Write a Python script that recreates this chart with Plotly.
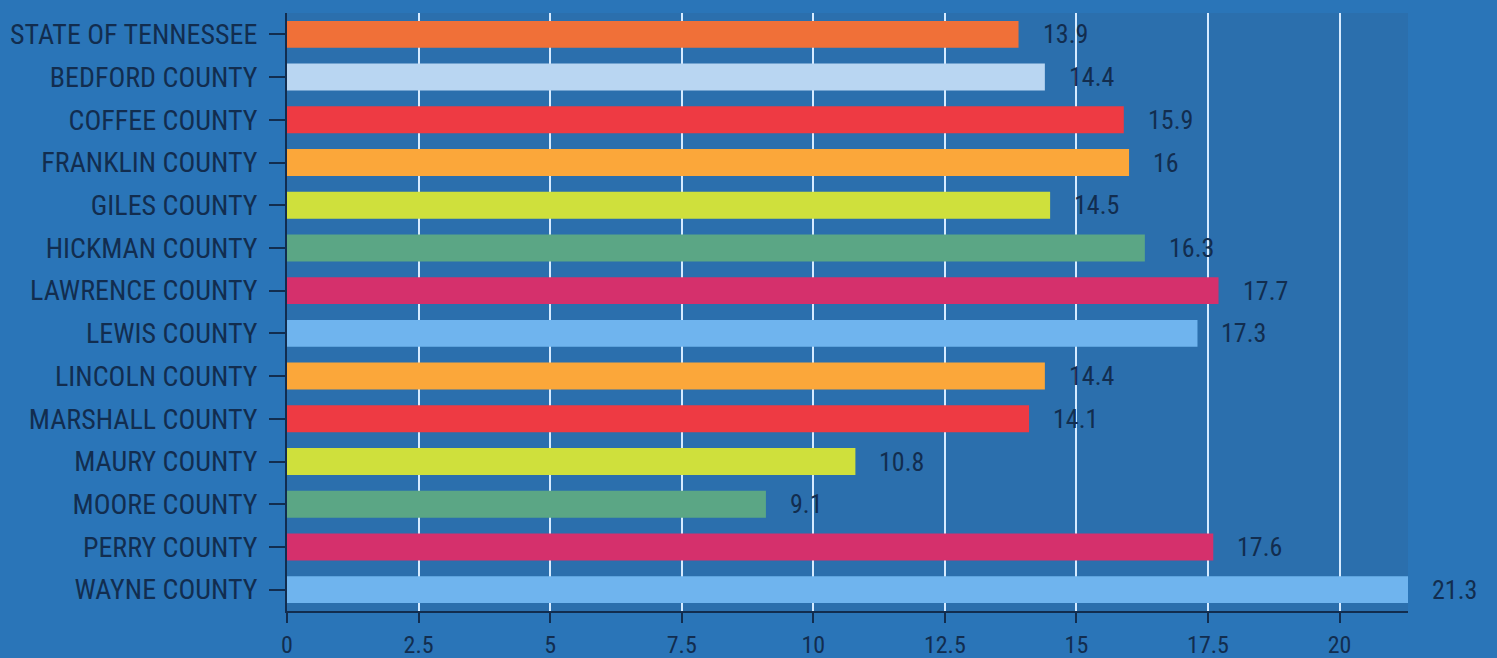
import plotly.graph_objects as go

categories = ["STATE OF TENNESSEE", "BEDFORD COUNTY", "COFFEE COUNTY", "FRANKLIN COUNTY",
              "GILES COUNTY", "HICKMAN COUNTY", "LAWRENCE COUNTY", "LEWIS COUNTY",
              "LINCOLN COUNTY", "MARSHALL COUNTY", "MAURY COUNTY", "MOORE COUNTY",
              "PERRY COUNTY", "WAYNE COUNTY"]
values = [13.9, 14.4, 15.9, 16, 14.5, 16.3, 17.7, 17.3, 14.4, 14.1, 10.8, 9.1, 17.6, 21.3]
value_labels = ["13.9", "14.4", "15.9", "16", "14.5", "16.3", "17.7", "17.3", "14.4", "14.1",
                "10.8", "9.1", "17.6", "21.3"]
bar_colors = ["#f07038", "#b9d6f2", "#ee3a43", "#fba73a", "#cfe03c", "#5ba685", "#d5306c",
              "#6fb4ee", "#fba73a", "#ee3a43", "#cfe03c", "#5ba685", "#d5306c", "#6fb4ee"]
tick_vals = [0, 2.5, 5, 7.5, 10, 12.5, 15, 17.5, 20]
tick_text = ["0", "2.5", "5", "7.5", "10", "12.5", "15", "17.5", "20"]

navy = "#122d4f"
font_family = "Liberation Sans Narrow, Roboto Condensed, Roboto, sans-serif"
paper = "#2a75b8"

fig = go.Figure()
fig.add_trace(go.Bar(
    y=categories, x=values, orientation="h",
    marker=dict(color=bar_colors, line=dict(width=0)),
    hoverinfo="x+y",
))

for c, v, t in zip(categories, values, value_labels):
    fig.add_annotation(x=v, y=c, text=t, showarrow=False, xanchor="left", xshift=22,
                       font=dict(family=font_family, size=26, color=navy))

fig.update_layout(
    width=1497, height=658,
    margin=dict(l=287, r=89, t=13, b=47, autoexpand=False),
    paper_bgcolor=paper,
    plot_bgcolor="#2b6fad",
    bargap=0.37,
    showlegend=False,
    font=dict(family=font_family, size=28, color=navy),
    xaxis=dict(
        range=[0, 21.3], tickvals=tick_vals, ticktext=tick_text,
        showgrid=True, gridcolor="#d6ebff", gridwidth=2,
        zeroline=False, showline=True, linecolor=navy, linewidth=2,
        ticks="outside", ticklen=10, tickwidth=2, tickcolor=navy,
        ticklabelstandoff=1, automargin=False,
        tickfont=dict(family=font_family, size=24, color=navy),
    ),
    yaxis=dict(
        categoryorder="array", categoryarray=categories, autorange="reversed",
        showgrid=False, zeroline=False, showline=True, linecolor=navy, linewidth=2,
        ticks="outside", ticklen=16, tickwidth=2, tickcolor=navy,
        ticklabelstandoff=6, automargin=False,
        tickfont=dict(family=font_family, size=28, color=navy),
    ),
)

fig.write_html(
    "out.html",
    config={"displayModeBar": False},
    post_script="document.body.style.margin='0';document.body.style.background='" + paper + "';",
)
